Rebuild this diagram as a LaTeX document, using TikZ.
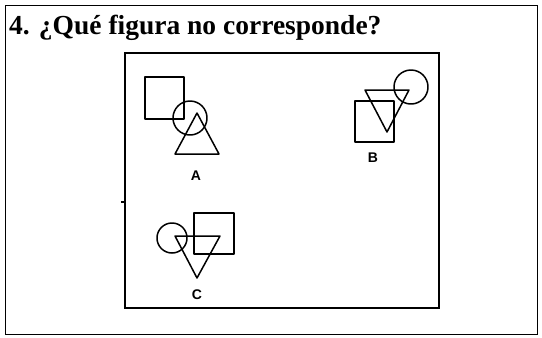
\documentclass[tikz,border=0pt]{standalone}
\usepackage{fontspec}
\setmainfont{Liberation Serif}
\setsansfont{Liberation Sans}

\begin{document}
\begin{tikzpicture}[x=1pt, y=-1pt,
  frame/.style={draw, line width=1pt},
  board/.style={draw, line width=1.9pt},
  fig/.style={draw, line width=1.5pt, line join=round},
  lbl/.style={font=\sffamily\bfseries\fontsize{14}{16}\selectfont, inner sep=0pt},
  ttl/.style={font=\bfseries\fontsize{27.5}{31}\selectfont, anchor=base west, inner sep=0pt},
]
\useasboundingbox (0,0) rectangle (542,338);
% frames
\draw[frame] (5,5) rectangle (537,334);
\node[ttl] (title) at (9,34) {4. ¿Qué figura no corresponde?};
\draw[board] (125,53) rectangle (439,308);
\draw[line width=1.2pt] (121,202) -- (125,202);
% figure A
\draw[fig] (145,77) rectangle (184,119);
\draw[fig] (190,118) circle (17);
\draw[fig] (197,113) -- (219,154) -- (175,154) -- cycle;
\node[lbl] (la) at (196,176) {A};
% figure B
\draw[fig] (355,101) rectangle (394,142);
\draw[fig] (365,90) -- (409,90) -- (387,132) -- cycle;
\draw[fig] (411,87) circle (17);
\node[lbl] (lb) at (373,158) {B};
% figure C
\draw[fig] (172,238) circle (15);
\draw[fig] (194,213) rectangle (234,254);
\draw[fig] (175,236) -- (220,236) -- (197,278) -- cycle;
\node[lbl] (lc) at (197,295) {C};
\end{tikzpicture}
\end{document}
